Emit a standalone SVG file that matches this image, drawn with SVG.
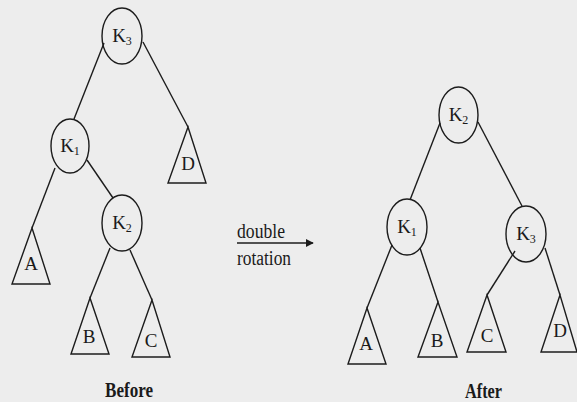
<svg xmlns="http://www.w3.org/2000/svg" width="577" height="402" viewBox="0 0 577 402">
  <style>
    .edge { stroke: #1c1c1c; stroke-width: 1.4; fill: none; }
    .node { stroke: #1c1c1c; stroke-width: 1.4; fill: none; }
    .sub { stroke: #1c1c1c; stroke-width: 1.4; fill: none; stroke-linejoin: miter; }
    .lbl { font-family: "Liberation Serif", "Times New Roman", serif; font-size: 19px; fill: #1a1a1a; text-anchor: middle; }
    .idx { font-size: 12px; }
    .cap { font-family: "Liberation Serif", "Times New Roman", serif; font-size: 20px; fill: #1a1a1a; }
    .title { font-family: "Liberation Serif", "Times New Roman", serif; font-size: 21px; font-weight: bold; fill: #1a1a1a; }
  </style>
  <defs>
    <marker id="arrow" viewBox="0 0 10 10" refX="9" refY="5" markerWidth="8" markerHeight="8" markerUnits="userSpaceOnUse" orient="auto">
      <path d="M0,0 L10,5 L0,10 z" fill="#1c1c1c"/>
    </marker>
  </defs>
  <rect width="577" height="402" fill="#ededed"/>

  <!-- tree before rotation -->
  <g id="before-edges">
    <line class="edge" x1="104" y1="43" x2="74" y2="119"/>
    <line class="edge" x1="143" y1="42" x2="188" y2="127"/>
    <line class="edge" x1="55" y1="168" x2="32" y2="228"/>
    <line class="edge" x1="87" y1="160" x2="113" y2="198"/>
    <line class="edge" x1="110" y1="248" x2="90" y2="298"/>
    <line class="edge" x1="130" y1="250" x2="152" y2="300"/>
  </g>
  <g id="before-k3">
    <ellipse class="node" cx="122" cy="36" rx="20" ry="28"/>
    <text class="lbl" x="122" y="42">K<tspan class="idx" dy="3">3</tspan></text>
  </g>
  <g id="before-k1">
    <ellipse class="node" cx="70" cy="146" rx="19" ry="27"/>
    <text class="lbl" x="70" y="152">K<tspan class="idx" dy="3">1</tspan></text>
  </g>
  <g id="before-k2">
    <ellipse class="node" cx="122" cy="223" rx="20" ry="28"/>
    <text class="lbl" x="122" y="229">K<tspan class="idx" dy="3">2</tspan></text>
  </g>
  <g id="before-a">
    <polygon class="sub" points="32,228 12,284 50,284"/>
    <text class="lbl" x="31" y="270">A</text>
  </g>
  <g id="before-b">
    <polygon class="sub" points="90,298 71,354 109,354"/>
    <text class="lbl" x="89" y="343">B</text>
  </g>
  <g id="before-c">
    <polygon class="sub" points="152,300 132,357 170,357"/>
    <text class="lbl" x="151" y="347">C</text>
  </g>
  <g id="before-d">
    <polygon class="sub" points="188,127 168,183 206,183"/>
    <text class="lbl" x="188" y="170">D</text>
  </g>
  <text class="title" x="105" y="397" textLength="48" lengthAdjust="spacingAndGlyphs">Before</text>

  <!-- rotation arrow -->
  <g id="rotation">
    <line class="edge" x1="237" y1="243" x2="313" y2="243" marker-end="url(#arrow)"/>
    <text class="cap" x="237" y="238" textLength="48" lengthAdjust="spacingAndGlyphs">double</text>
    <text class="cap" x="237" y="265" textLength="54" lengthAdjust="spacingAndGlyphs">rotation</text>
  </g>

  <!-- tree after rotation -->
  <g id="after-edges">
    <line class="edge" x1="440" y1="123" x2="410" y2="200"/>
    <line class="edge" x1="478" y1="122" x2="522" y2="206"/>
    <line class="edge" x1="392" y1="245" x2="367" y2="308"/>
    <line class="edge" x1="420" y1="248" x2="438" y2="302"/>
    <line class="edge" x1="515" y1="251" x2="487" y2="295"/>
    <line class="edge" x1="545" y1="248" x2="560" y2="295"/>
  </g>
  <g id="after-k2">
    <ellipse class="node" cx="458.5" cy="115" rx="19.5" ry="28"/>
    <text class="lbl" x="458.5" y="121">K<tspan class="idx" dy="3">2</tspan></text>
  </g>
  <g id="after-k1">
    <ellipse class="node" cx="407" cy="227" rx="20" ry="28"/>
    <text class="lbl" x="407" y="233">K<tspan class="idx" dy="3">1</tspan></text>
  </g>
  <g id="after-k3">
    <ellipse class="node" cx="526" cy="234" rx="20" ry="28"/>
    <text class="lbl" x="526" y="240">K<tspan class="idx" dy="3">3</tspan></text>
  </g>
  <g id="after-a">
    <polygon class="sub" points="367,308 348,364 386,364"/>
    <text class="lbl" x="366" y="350">A</text>
  </g>
  <g id="after-b">
    <polygon class="sub" points="438,302 418,357 457,357"/>
    <text class="lbl" x="437" y="347">B</text>
  </g>
  <g id="after-c">
    <polygon class="sub" points="487,295 467,352 506,352"/>
    <text class="lbl" x="487" y="342">C</text>
  </g>
  <g id="after-d">
    <polygon class="sub" points="560,295 541,352 577,352"/>
    <text class="lbl" x="560" y="337">D</text>
  </g>
  <text class="title" x="465" y="398" textLength="37" lengthAdjust="spacingAndGlyphs">After</text>
</svg>
